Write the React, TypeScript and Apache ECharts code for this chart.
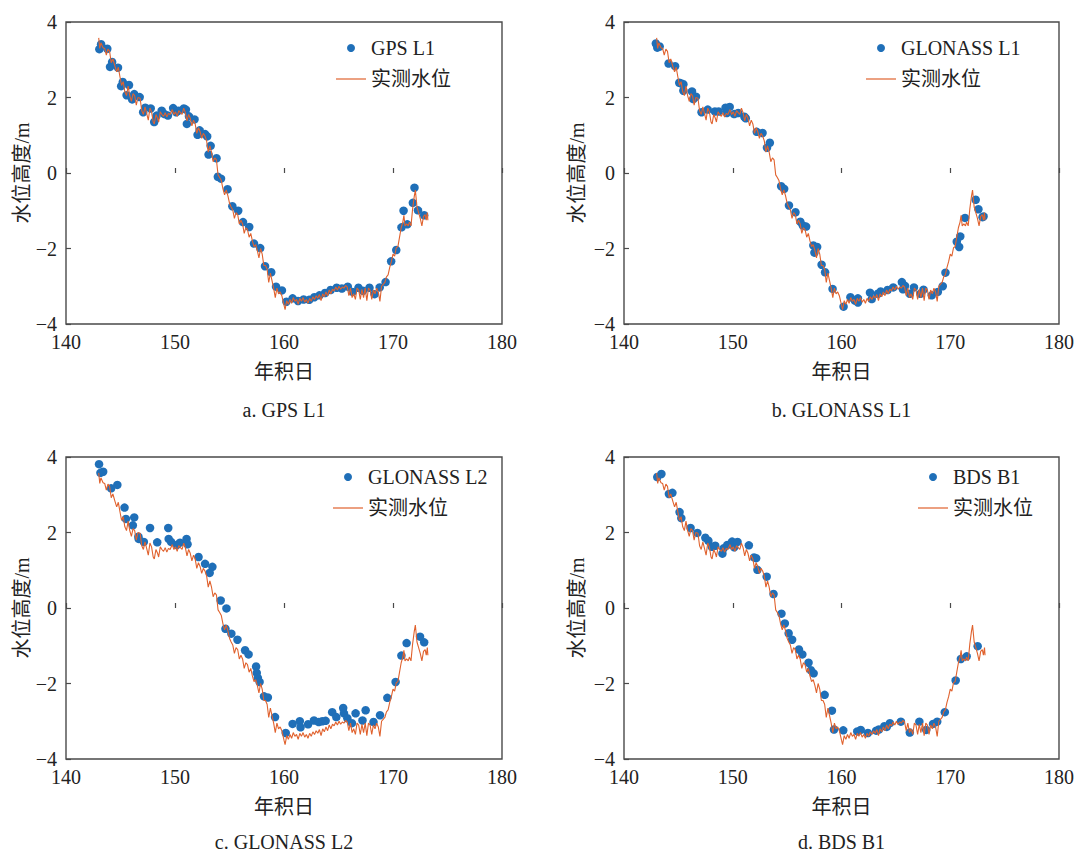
import React, { useEffect, useRef } from "react";
import * as echarts from "echarts";

// Measured water level (day of year, level in m)
const measuredLevel: [number, number][] = [
  [143.0, 3.58], [143.1, 3.3], [143.2, 3.45], [143.4, 3.32], [143.55, 3.3], [143.7, 3.12],
  [143.85, 3.28], [144.0, 3.22], [144.15, 2.92], [144.3, 3.02], [144.5, 2.82], [144.65, 2.68],
  [144.8, 2.8], [144.95, 2.55], [145.1, 2.32], [145.25, 2.42], [145.4, 2.15], [145.55, 2.05],
  [145.7, 2.3], [145.85, 2.05], [146.0, 1.9], [146.15, 2.1], [146.3, 2.05], [146.45, 1.8],
  [146.6, 2.0], [146.8, 1.98], [146.95, 1.65], [147.1, 1.55], [147.25, 1.75], [147.4, 1.58],
  [147.55, 1.4], [147.7, 1.72], [147.85, 1.62], [148.0, 1.35], [148.1, 1.3], [148.25, 1.55],
  [148.4, 1.45], [148.5, 1.35], [148.65, 1.62], [148.8, 1.55], [148.95, 1.5], [149.1, 1.6],
  [149.25, 1.48], [149.4, 1.58], [149.55, 1.55], [149.75, 1.68], [149.9, 1.55], [150.05, 1.62],
  [150.2, 1.5], [150.35, 1.65], [150.5, 1.6], [150.65, 1.55], [150.8, 1.72], [150.95, 1.6],
  [151.1, 1.38], [151.25, 1.55], [151.4, 1.45], [151.55, 1.25], [151.7, 1.4], [151.85, 1.3],
  [152.0, 1.05], [152.15, 1.2], [152.3, 1.1], [152.45, 0.92], [152.6, 1.05], [152.75, 0.98],
  [152.9, 0.85], [153.05, 0.55], [153.2, 0.72], [153.35, 0.55], [153.5, 0.3], [153.65, 0.4],
  [153.8, 0.35], [153.95, -0.05], [154.1, -0.12], [154.25, -0.2], [154.4, -0.42], [154.55, -0.58],
  [154.7, -0.45], [154.85, -0.6], [155.0, -0.8], [155.15, -0.9], [155.3, -0.98], [155.45, -1.2],
  [155.6, -1.05], [155.75, -1.1], [155.9, -1.35], [156.05, -1.25], [156.2, -1.35], [156.35, -1.6],
  [156.5, -1.45], [156.65, -1.5], [156.8, -1.7], [156.95, -1.6], [157.1, -1.8], [157.25, -1.95],
  [157.4, -1.9], [157.55, -2.05], [157.7, -2.25], [157.85, -2.0], [158.0, -2.15], [158.15, -2.45],
  [158.3, -2.45], [158.45, -2.55], [158.6, -2.9], [158.75, -2.65], [158.9, -2.85], [159.05, -3.05],
  [159.2, -3.3], [159.35, -3.05], [159.5, -3.2], [159.65, -3.15], [159.8, -3.25], [160.0, -3.5],
  [160.1, -3.62], [160.25, -3.38], [160.4, -3.48], [160.55, -3.35], [160.7, -3.45], [160.85, -3.3],
  [161.0, -3.4], [161.15, -3.35], [161.3, -3.48], [161.45, -3.32], [161.6, -3.4], [161.75, -3.3],
  [161.9, -3.42], [162.05, -3.35], [162.2, -3.45], [162.35, -3.32], [162.5, -3.4], [162.65, -3.28],
  [162.8, -3.35], [162.95, -3.25], [163.1, -3.32], [163.25, -3.22], [163.4, -3.38], [163.55, -3.2],
  [163.7, -3.28], [163.85, -3.15], [164.0, -3.25], [164.15, -3.1], [164.3, -3.2], [164.45, -3.08],
  [164.6, -3.12], [164.75, -3.02], [164.9, -3.1], [165.05, -3.0], [165.2, -3.08], [165.35, -3.02],
  [165.5, -3.05], [165.65, -2.98], [165.8, -3.02], [165.95, -3.25], [166.1, -3.05], [166.25, -3.3],
  [166.4, -3.2], [166.55, -3.35], [166.7, -3.05], [166.85, -3.1], [167.0, -3.35], [167.15, -3.08],
  [167.3, -3.3], [167.45, -3.05], [167.6, -3.38], [167.75, -3.05], [167.9, -3.1], [168.05, -3.35],
  [168.2, -3.1], [168.35, -3.2], [168.5, -3.05], [168.65, -3.15], [168.8, -3.4], [168.95, -3.0],
  [169.1, -2.95], [169.25, -2.9], [169.4, -2.75], [169.55, -2.7], [169.7, -2.5], [169.85, -2.35],
  [170.0, -2.15], [170.15, -2.2], [170.3, -1.98], [170.45, -1.95], [170.6, -1.7], [170.75, -1.45],
  [170.9, -1.3], [171.0, -1.12], [171.1, -1.4], [171.25, -1.35], [171.4, -1.4], [171.5, -1.3],
  [171.65, -1.4], [171.8, -0.95], [171.95, -0.62], [172.05, -0.45], [172.2, -0.9], [172.35, -1.05],
  [172.5, -1.2], [172.65, -1.4], [172.8, -1.15], [172.95, -1.1], [173.05, -1.25], [173.15, -1.05],
  [173.2, -1.25],
];

// GNSS-IR retrieved water level, GPS L1
const gpsL1: [number, number][] = [
  [143.06, 3.28], [143.22, 3.41], [143.79, 3.29], [144.04, 2.81], [144.23, 2.94], [144.77, 2.79],
  [145.06, 2.3], [145.21, 2.41], [145.56, 2.06], [145.78, 2.33], [146.07, 1.95], [146.26, 2.09],
  [146.76, 2.01], [147.08, 1.61], [147.27, 1.73], [147.77, 1.71], [148.09, 1.35], [148.31, 1.52],
  [148.78, 1.65], [149.04, 1.56], [149.35, 1.52], [149.83, 1.72], [150.11, 1.61], [150.3, 1.65],
  [150.81, 1.71], [151.0, 1.68], [151.09, 1.3], [151.28, 1.5], [151.79, 1.42], [152.07, 1.01],
  [152.26, 1.13], [152.76, 1.03], [152.95, 0.97], [153.08, 0.49], [153.27, 0.72], [153.81, 0.39],
  [153.93, -0.1], [154.22, -0.15], [154.82, -0.43], [155.26, -0.88], [155.8, -1.0], [156.24, -1.3],
  [156.81, -1.43], [157.25, -1.87], [157.82, -1.99], [158.26, -2.47], [158.83, -2.63], [159.27, -3.01],
  [159.81, -3.11], [160.22, -3.41], [160.79, -3.32], [161.29, -3.39], [161.8, -3.35], [162.31, -3.36],
  [162.78, -3.29], [163.25, -3.24], [163.76, -3.18], [164.27, -3.1], [164.83, -3.04], [165.31, -3.06],
  [165.85, -3.01], [166.29, -3.15], [166.83, -3.04], [167.24, -3.12], [167.84, -3.04], [168.31, -3.21],
  [168.78, -3.03], [169.32, -2.89], [169.83, -2.34], [170.3, -2.04], [170.78, -1.44], [170.97, -1.0],
  [171.31, -1.36], [171.82, -0.79], [171.97, -0.39], [172.29, -0.99], [172.86, -1.12],
];

// GLONASS L1
const glonassL1: [number, number][] = [
  [142.93, 3.43], [143.06, 3.32], [143.28, 3.35], [144.1, 2.9], [144.7, 2.83], [145.08, 2.39],
  [145.27, 2.37], [145.46, 2.18], [145.46, 2.35], [146.25, 2.16], [146.37, 1.96], [146.62, 2.02],
  [147.13, 1.61], [147.7, 1.68], [148.36, 1.63], [148.71, 1.63], [149.34, 1.73], [149.46, 1.59],
  [149.72, 1.75], [150.13, 1.56], [150.5, 1.59], [151.07, 1.49], [151.2, 1.45], [152.21, 1.09],
  [152.74, 1.06], [153.15, 0.67], [153.41, 0.8], [154.45, -0.35], [154.73, -0.42], [155.17, -0.86],
  [155.77, -1.04], [156.21, -1.29], [156.44, -1.39], [156.75, -1.42], [157.41, -1.92], [157.51, -2.11],
  [157.76, -1.96], [158.17, -2.43], [158.49, -2.63], [159.18, -3.07], [160.19, -3.54], [160.82, -3.29],
  [161.23, -3.38], [161.51, -3.32], [161.51, -3.43], [162.62, -3.17], [162.78, -3.34], [163.34, -3.2],
  [163.6, -3.14], [164.23, -3.1], [164.76, -3.03], [165.55, -2.89], [165.65, -3.08], [165.84, -2.99],
  [166.28, -3.2], [166.66, -3.03], [167.26, -3.2], [167.54, -3.09], [168.3, -3.24], [168.86, -3.15],
  [169.31, -3.0], [169.56, -2.64], [170.6, -1.82], [170.82, -1.96], [170.92, -1.68], [171.36, -1.19],
  [172.34, -0.71], [172.59, -0.96], [172.97, -1.17], [173.06, -1.15],
];

// GLONASS L2
const glonassL2: [number, number][] = [
  [143.03, 3.81], [143.16, 3.58], [143.41, 3.61], [144.14, 3.17], [144.71, 3.26], [145.37, 2.66],
  [145.5, 2.36], [146.13, 2.19], [146.26, 2.4], [146.64, 1.89], [146.67, 1.83], [147.14, 1.75],
  [147.71, 2.12], [148.37, 1.74], [149.38, 2.12], [149.42, 1.83], [149.64, 1.75], [150.17, 1.67],
  [150.46, 1.73], [151.06, 1.83], [151.15, 1.69], [152.16, 1.35], [152.76, 1.17], [153.18, 0.93],
  [153.43, 1.09], [154.19, 0.2], [154.72, -0.01], [154.63, -0.55], [155.17, -0.68], [155.73, -0.84],
  [156.43, -1.12], [156.75, -1.23], [157.44, -1.55], [157.5, -1.72], [157.6, -1.85], [157.76, -1.96],
  [158.17, -2.34], [158.52, -2.37], [159.18, -2.89], [160.16, -3.31], [160.79, -3.07], [161.45, -3.0],
  [161.52, -3.16], [162.21, -3.08], [162.75, -2.98], [163.19, -3.02], [163.51, -3.0], [163.82, -2.99],
  [164.42, -2.76], [164.8, -2.89], [165.43, -2.65], [165.5, -2.79], [165.81, -2.92], [166.23, -3.05],
  [166.57, -2.79], [167.2, -2.98], [167.49, -2.71], [168.21, -3.02], [168.81, -2.84], [169.48, -2.38],
  [170.24, -1.96], [170.77, -1.26], [171.25, -0.93], [172.48, -0.76], [172.86, -0.91],
];

// BDS B1
const bdsB1: [number, number][] = [
  [143.06, 3.47], [143.44, 3.55], [144.13, 3.02], [144.45, 3.05], [145.11, 2.54], [145.27, 2.38],
  [146.12, 2.12], [146.75, 1.99], [147.48, 1.86], [147.76, 1.78], [148.08, 1.62], [148.39, 1.65],
  [149.05, 1.44], [149.15, 1.58], [149.5, 1.67], [149.94, 1.76], [150.13, 1.61], [150.44, 1.75],
  [151.48, 1.66], [151.96, 1.34], [152.15, 1.32], [152.27, 1.01], [153.12, 0.83], [153.75, 0.37],
  [154.48, -0.15], [154.79, -0.41], [155.14, -0.67], [155.46, -0.84], [156.09, -1.1], [156.4, -1.23],
  [156.97, -1.45], [157.19, -1.65], [157.44, -1.73], [158.45, -2.3], [159.12, -2.72], [159.31, -3.22],
  [160.16, -3.24], [161.45, -3.27], [161.77, -3.23], [162.43, -3.31], [163.19, -3.25], [163.44, -3.22],
  [163.94, -3.13], [164.16, -3.15], [164.45, -3.05], [165.46, -3.01], [166.28, -3.3], [167.16, -3.01],
  [167.79, -3.23], [168.42, -3.07], [168.8, -3.01], [169.5, -2.76], [170.5, -1.92], [170.98, -1.35],
  [171.51, -1.28], [172.52, -1.01],
];

const MEASURED_NAME = "实测水位";
const X_NAME = "年积日";
const Y_NAME = "水位高度/m";

const SERIF = "'Liberation Serif', 'Noto Sans CJK SC', serif";
const TEXT_COLOR = "#222";
const FRAME_COLOR = "#4a4a4a";
const DOT_COLOR = "#1f6fb8";
const LINE_COLOR = "#e0622e";

// thin horizontal bar used as the legend mark of the measured line
const LINE_ICON = "path://M0,0 L30,0 L30,1.2 L0,1.2 Z";

type Panel = {
  name: string;
  caption: string;
  data: [number, number][];
  grid: { left: number; top: number; width: number; height: number };
  legendLeft: number;
  legendTop: number;
  yNameGap: number;
  captionY: number;
};

const panels: Panel[] = [
  {
    name: "GPS L1",
    caption: "a. GPS L1",
    data: gpsL1,
    grid: { left: 66, top: 22, width: 436, height: 302 },
    legendLeft: 336,
    legendTop: 38,
    yNameGap: 31,
    captionY: 410,
  },
  {
    name: "GLONASS L1",
    caption: "b. GLONASS L1",
    data: glonassL1,
    grid: { left: 624, top: 22, width: 435, height: 302 },
    legendLeft: 866,
    legendTop: 38,
    yNameGap: 37,
    captionY: 410,
  },
  {
    name: "GLONASS L2",
    caption: "c. GLONASS L2",
    data: glonassL2,
    grid: { left: 66, top: 457, width: 436, height: 302 },
    legendLeft: 333,
    legendTop: 467,
    yNameGap: 34,
    captionY: 842,
  },
  {
    name: "BDS B1",
    caption: "d. BDS B1",
    data: bdsB1,
    grid: { left: 624, top: 457, width: 435, height: 302 },
    legendLeft: 918,
    legendTop: 467,
    yNameGap: 37,
    captionY: 842,
  },
];

const fmtTick = (v: number) => (v < 0 ? "\u2212" + Math.abs(v) : String(v));

function buildOption(): echarts.EChartsOption {
  const grid = panels.map((p) => ({
    ...p.grid,
    show: true,
    borderColor: FRAME_COLOR,
    borderWidth: 1.4,
    backgroundColor: "transparent",
  }));

  const xAxis = panels.map((_, i) => ({
    type: "value" as const,
    gridIndex: i,
    min: 140,
    max: 180,
    interval: 10,
    name: X_NAME,
    nameLocation: "middle" as const,
    nameGap: 38,
    nameTextStyle: { fontFamily: SERIF, fontSize: 20, color: TEXT_COLOR },
    axisLine: { show: false },
    axisTick: { show: true, inside: true, length: 5, lineStyle: { color: FRAME_COLOR, width: 1.2 } },
    axisLabel: { fontFamily: SERIF, fontSize: 20, color: TEXT_COLOR, margin: 8 },
    splitLine: { show: false },
  }));

  const yAxis = panels.map((p, i) => ({
    type: "value" as const,
    gridIndex: i,
    min: -4,
    max: 4,
    interval: 2,
    name: Y_NAME,
    nameLocation: "middle" as const,
    nameRotate: 90,
    nameGap: p.yNameGap,
    nameTextStyle: { fontFamily: SERIF, fontSize: 20, color: TEXT_COLOR },
    axisLine: { show: false },
    axisTick: { show: true, inside: true, length: 5, lineStyle: { color: FRAME_COLOR, width: 1.2 } },
    axisLabel: { fontFamily: SERIF, fontSize: 20, color: TEXT_COLOR, margin: 9, formatter: fmtTick },
    splitLine: { show: false },
  }));

  const series: any[] = [];
  panels.forEach((p, i) => {
    series.push({
      name: p.name,
      type: "scatter",
      xAxisIndex: i,
      yAxisIndex: i,
      data: p.data,
      symbol: "circle",
      symbolSize: 8.5,
      itemStyle: { color: DOT_COLOR, opacity: 1 },
      z: 2,
    });
    series.push({
      name: MEASURED_NAME,
      type: "line",
      xAxisIndex: i,
      yAxisIndex: i,
      data: measuredLevel,
      showSymbol: false,
      symbol: "none",
      lineStyle: { color: LINE_COLOR, width: 1.1 },
      itemStyle: { color: LINE_COLOR },
      z: 3,
    });
  });

  const legend = panels.map((p) => ({
    left: p.legendLeft,
    top: p.legendTop,
    orient: "vertical" as const,
    padding: 0,
    itemGap: 11,
    itemWidth: 30,
    itemHeight: 8,
    selectedMode: false,
    textStyle: { fontFamily: SERIF, fontSize: 20, color: TEXT_COLOR, lineHeight: 20 },
    data: [
      { name: p.name, icon: "circle", itemStyle: { color: DOT_COLOR, opacity: 1 } },
      { name: MEASURED_NAME, icon: LINE_ICON, itemStyle: { color: LINE_COLOR } },
    ],
  }));

  const graphic = panels.map((p) => ({
    type: "text" as const,
    x: p.grid.left + p.grid.width / 2,
    y: p.captionY,
    style: {
      text: p.caption,
      font: `20px ${SERIF}`,
      fill: TEXT_COLOR,
      align: "center",
      verticalAlign: "middle",
      textAlign: "center",
      textVerticalAlign: "middle",
    } as any,
  }));

  return {
    animation: false,
    backgroundColor: "#ffffff",
    grid,
    xAxis,
    yAxis,
    legend,
    series,
    graphic,
  } as echarts.EChartsOption;
}

export default function App() {
  const ref = useRef<HTMLDivElement>(null);

  useEffect(() => {
    if (!ref.current) return;
    const chart = echarts.init(ref.current, undefined, { renderer: "svg" });
    chart.setOption(buildOption());
    return () => chart.dispose();
  }, []);

  return (
    <div
      ref={ref}
      style={{ position: "absolute", left: 0, top: 0, width: 1078, height: 855, background: "#fff" }}
    />
  );
}
